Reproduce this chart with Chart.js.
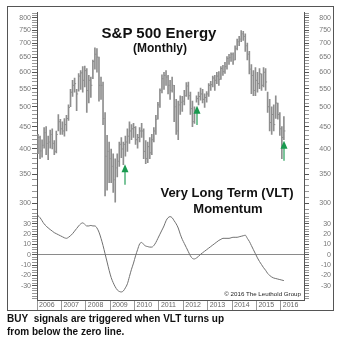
<!DOCTYPE html>
<html>
<head>
<meta charset="utf-8">
<title>S&amp;P 500 Energy - VLT Momentum</title>
<script src="https://cdn.jsdelivr.net/npm/chart.js@4.4.0/dist/chart.umd.min.js"></script>
<style>
  html, body { margin: 0; padding: 0; background: #fff; }
  #page { position: relative; width: 350px; height: 351px; overflow: hidden;
          font-family: "Liberation Sans", Arial, sans-serif; }
  #frame { position: absolute; left: 7px; top: 6px; width: 325px; height: 303px; border: 1px solid #555; }
  #frame canvas { display: block; }
  .txt { position: absolute; white-space: nowrap; line-height: 1; color: #111; font-weight: bold;
         transform: translate(-50%, -50%); pointer-events: none; }
  #copy { position: absolute; right: 49px; top: 291px; font-size: 6.2px; line-height: 1; color: #222; white-space: nowrap; }
  #note { position: absolute; left: 7px; top: 312px; font-size: 10px; line-height: 13px; font-weight: bold; color: #111; }
</style>
</head>
<body>
<div id="page">
  <div id="frame"><canvas id="energyChart" width="325" height="303"></canvas></div>
  <div class="txt" style="left:159px; top:32px; font-size:15px;">S&amp;P 500 Energy</div>
  <div class="txt" style="left:160px; top:48px; font-size:12px;">(Monthly)</div>
  <div class="txt" style="left:227px; top:192px; font-size:13px;">Very Long Term (VLT)</div>
  <div class="txt" style="left:228px; top:208px; font-size:13px;">Momentum</div>
  <div id="copy">© 2016 The Leuthold Group</div>
  <div id="note">BUY&nbsp; signals are triggered when VLT turns up<br>from below the zero line.</div>
</div>
<script>
// monthly bars, Jan 2006 .. Feb 2016
const years = [2006, 2007, 2008, 2009, 2010, 2011, 2012, 2013, 2014, 2015, 2016];

const highs = [
  432, 428, 420, 448, 450, 428, 442, 445, 418, 440, 480, 468,   // 2006
  462, 470, 478, 505, 548, 575, 582, 548, 596, 605, 618, 620,   // 2007
  612, 590, 585, 640, 683, 680, 650, 585, 570, 485, 430, 415,   // 2008
  400, 390, 380, 390, 415, 425, 415, 428, 445, 462, 455, 458,   // 2009
  450, 432, 448, 458, 445, 418, 415, 425, 432, 448, 478, 512,   // 2010
  550, 592, 600, 605, 590, 575, 585, 560, 520, 515, 530, 528,   // 2011
  545, 568, 570, 540, 515, 500, 530, 540, 552, 548, 535, 542,   // 2012
  565, 572, 588, 590, 600, 602, 618, 622, 632, 652, 660, 665,   // 2013
  665, 690, 715, 725, 748, 745, 735, 700, 670, 625, 605, 615,   // 2014
  600, 612, 595, 615, 612, 540, 520, 500, 505, 530, 510, 485,   // 2015
  450, 475                                                      // 2016
];
const lows = [
  390, 380, 383, 402, 388, 378, 402, 400, 388, 392, 440, 432,
  432, 428, 440, 465, 500, 528, 540, 490, 543, 548, 540, 555,
  485, 510, 525, 580, 610, 600, 515, 520, 455, 312, 322, 335,
  335, 318, 302, 345, 365, 382, 368, 385, 395, 412, 420, 425,
  410, 402, 415, 425, 380, 370, 372, 380, 388, 415, 432, 468,
  498, 538, 548, 560, 535, 520, 540, 462, 432, 420, 480, 488,
  505, 528, 520, 480, 450, 458, 512, 505, 518, 510, 498, 512,
  528, 545, 555, 545, 565, 560, 578, 590, 596, 610, 625, 635,
  625, 640, 675, 690, 705, 710, 670, 640, 595, 536, 530, 530,
  540, 550, 545, 555, 545, 485, 440, 432, 440, 470, 468, 430,
  380, 420
];
const closes = [
  425, 396, 408, 436, 412, 415, 432, 412, 395, 432, 462, 445,
  440, 455, 470, 498, 540, 560, 565, 535, 588, 598, 575, 605,
  545, 575, 560, 635, 660, 650, 560, 560, 470, 385, 395, 380,
  365, 340, 362, 375, 410, 400, 410, 415, 428, 440, 445, 448,
  420, 425, 440, 440, 395, 380, 405, 392, 420, 440, 468, 505,
  545, 580, 590, 585, 560, 545, 560, 500, 440, 505, 512, 515,
  530, 558, 530, 495, 462, 490, 522, 528, 535, 520, 525, 535,
  560, 562, 582, 575, 588, 578, 612, 602, 618, 645, 648, 660,
  640, 680, 705, 715, 735, 725, 690, 660, 610, 590, 545, 575,
  565, 595, 560, 600, 570, 500, 460, 480, 455, 510, 480, 445,
  425, 440
];

// Very Long Term momentum
const vlt = [
  38, 36, 33, 30, 28, 26, 24.5, 23, 21.5, 20.5, 19.5, 18.5,
  17.5, 16.5, 16, 17, 18.5, 20.5, 23, 25.5, 28, 30, 31, 29.5,
  28, 28, 28.5, 28, 28, 26, 22, 16, 9, 1, -7, -15,
  -22, -27, -31, -34, -35.5, -36, -35, -32, -28, -21, -14, -8,
  -1, 5, 10.5, 12, 10, 8.5, 8, 7.5, 7.5, 9, 12, 16,
  20, 24, 28, 33, 36, 37, 36, 33, 30, 26, 20, 15,
  11, 7, 3, -1, -3.5, -4, -3, -1.5, 0.5, 2, 3.5, 5,
  6.5, 8, 9.5, 11, 12.5, 14, 15, 16, 16, 16, 16, 16.5,
  17, 17, 17, 17.5, 18, 18.5, 19, 16, 13, 9, 5, 1,
  -3, -6.5, -9.5, -12.5, -15, -18, -20, -21.5, -22.5, -23, -23.5, -24,
  -24.5, -25
];

const priceLabels = [300, 350, 400, 450, 500, 550, 600, 650, 700, 750, 800];
const vltLabels = [-30, -20, -10, 0, 10, 20, 30];

// buy signals: month index, arrow tip and tail (price scale)
const buyMonths = [43, 78, 121];
const buyTips = [369, 503, 418];
const buyTails = [331, 454, 376];

const monthX = i => 2006 + (i + 0.5) / 12;

// minor ticks along the axes
const priceTicks = [];
for (let v = 290; v <= 820; v += 10) priceTicks.push(v);
const vltTicks = [];
for (let k = -17; k <= 16; k++) vltTicks.push(k * 2.5);

const tickFont = { family: '"Liberation Sans", Arial, sans-serif', size: 7 };
const barGray = '#8e8e8e';

function sideAxis(position, isPrice, weight) {
    const labels = isPrice ? priceLabels : vltLabels;
    const all = isPrice ? priceTicks : vltTicks;
    return {
        type: isPrice ? 'logarithmic' : 'linear',
        position: position,
        stack: position,
        stackWeight: isPrice ? 205 : 88,
        weight: weight,
        min: isPrice ? 284.4 : -43.8,
        max: isPrice ? 824 : 40,
        afterBuildTicks: s => { s.ticks = all.map(v => ({ value: v })); },
        afterFit: s => { s.width = position === 'left' ? 29 : 27; },
        grid: {
            drawOnChartArea: !isPrice && position === 'left',
            color: c => (c.tick && c.tick.value === 0) ? '#8a8a8a' : 'rgba(0,0,0,0)',
            tickLength: 5,
            tickColor: c => (c.tick && labels.includes(c.tick.value)) ? '#555' : '#999'
        },
        border: { color: '#555' },
        ticks: {
            autoSkip: false,
            padding: 1,
            crossAlign: position === 'right' ? 'far' : 'near',
            color: '#777',
            font: tickFont,
            callback: v => labels.includes(v) ? String(v) : ''
        }
    };
}

const buyArrows = {
    id: 'buyArrows',
    afterDatasetsDraw(chart) {
        const ctx = chart.ctx;
        const x = chart.scales.x;
        const y = chart.scales.yPrice;
        ctx.save();
        buyMonths.forEach((m, i) => {
            const px = Math.round(x.getPixelForValue(monthX(m)));
            const tip = y.getPixelForValue(buyTips[i]);
            const tail = y.getPixelForValue(buyTails[i]);
            ctx.strokeStyle = '#7cc59b';
            ctx.lineWidth = 2;
            ctx.beginPath();
            ctx.moveTo(px, tip + 7);
            ctx.lineTo(px, tail);
            ctx.stroke();
            ctx.fillStyle = '#199a4f';
            ctx.beginPath();
            ctx.moveTo(px, tip);
            ctx.lineTo(px - 3.5, tip + 8);
            ctx.lineTo(px + 3.5, tip + 8);
            ctx.closePath();
            ctx.fill();
        });
        ctx.restore();
    }
};

new Chart(document.getElementById('energyChart'), {
    type: 'bar',
    data: {
        datasets: [
            {
                type: 'bar',
                data: highs.map((h, i) => ({ x: monthX(i), y: [lows[i], h] })),
                yAxisID: 'yPrice',
                backgroundColor: barGray,
                barThickness: 1,
                borderWidth: 0
            },
            {
                type: 'line',
                data: closes.map((c, i) => ({ x: monthX(i), y: c })),
                yAxisID: 'yPrice',
                showLine: false,
                pointStyle: 'dash',
                pointRadius: 1.5,
                pointBorderColor: barGray,
                pointBorderWidth: 1
            },
            {
                type: 'line',
                data: vlt.map((v, i) => ({ x: monthX(i), y: v })),
                yAxisID: 'yMom',
                borderColor: '#707070',
                borderWidth: 1,
                pointRadius: 0,
                cubicInterpolationMode: 'monotone'
            }
        ]
    },
    options: {
        responsive: false,
        animation: false,
        layout: { padding: { top: 0, left: 0, right: 2, bottom: 0 } },
        plugins: {
            legend: { display: false },
            tooltip: { enabled: false }
        },
        scales: {
            x: {
                type: 'linear',
                min: 2006,
                max: 2016.95,
                offset: false,
                afterBuildTicks: s => { s.ticks = years.map(v => ({ value: v })); },
                afterFit: s => { s.height = 10; },
                grid: { offset: false, drawOnChartArea: false, tickLength: 10, color: '#999' },
                border: { color: '#555' },
                ticks: {
                    align: 'start',
                    labelOffset: 2,
                    padding: -9,
                    autoSkip: false,
                    maxRotation: 0,
                    minRotation: 0,
                    color: '#666',
                    font: tickFont,
                    callback: v => String(v)
                }
            },
            yPrice: sideAxis('left', true, 2),
            yMom: sideAxis('left', false, 1),
            yPriceR: sideAxis('right', true, 1),
            yMomR: sideAxis('right', false, 2)
        }
    },
    plugins: [buyArrows]
});
</script>
</body>
</html>
